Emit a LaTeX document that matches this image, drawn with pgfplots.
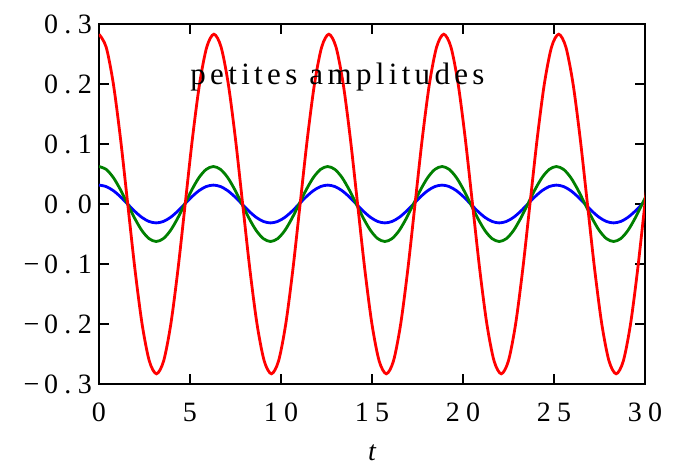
\documentclass[border=0pt]{standalone}
\usepackage{fontspec}
\setmainfont{Liberation Serif}[LetterSpace=23]
\newfontfamily\notefont{Liberation Serif}[LetterSpace=14]
\usepackage{pgfplots}
\pgfplotsset{compat=1.18}
\usepackage{pgfplotstable}

% t: time for the two small swings, tr: time for the large one (slightly longer period)
\pgfplotstableread{
t tr r g b
0 0 0.2830 0.0625 0.0315
0.3927 0.3947 0.2615 0.0577 0.0291
0.7854 0.7893 0.2001 0.0442 0.0223
1.1781 1.1840 0.1083 0.0239 0.0121
1.5708 1.5787 0 0 0
1.9635 1.9733 -0.1083 -0.0239 -0.0121
2.3562 2.3680 -0.2001 -0.0442 -0.0223
2.7489 2.7626 -0.2615 -0.0577 -0.0291
3.1416 3.1573 -0.2830 -0.0625 -0.0315
3.5343 3.5520 -0.2615 -0.0577 -0.0291
3.9270 3.9466 -0.2001 -0.0442 -0.0223
4.3197 4.3413 -0.1083 -0.0239 -0.0121
4.7124 4.7360 0 0 0
5.1051 5.1306 0.1083 0.0239 0.0121
5.4978 5.5253 0.2001 0.0442 0.0223
5.8905 5.9199 0.2615 0.0577 0.0291
6.2832 6.3146 0.2830 0.0625 0.0315
6.6759 6.7093 0.2615 0.0577 0.0291
7.0686 7.1039 0.2001 0.0442 0.0223
7.4613 7.4986 0.1083 0.0239 0.0121
7.8540 7.8933 0 0 0
8.2467 8.2879 -0.1083 -0.0239 -0.0121
8.6394 8.6826 -0.2001 -0.0442 -0.0223
9.0321 9.0772 -0.2615 -0.0577 -0.0291
9.4248 9.4719 -0.2830 -0.0625 -0.0315
9.8175 9.8666 -0.2615 -0.0577 -0.0291
10.2102 10.2612 -0.2001 -0.0442 -0.0223
10.6029 10.6559 -0.1083 -0.0239 -0.0121
10.9956 11.0506 0 0 0
11.3883 11.4452 0.1083 0.0239 0.0121
11.7810 11.8399 0.2001 0.0442 0.0223
12.1737 12.2346 0.2615 0.0577 0.0291
12.5664 12.6292 0.2830 0.0625 0.0315
12.9591 13.0239 0.2615 0.0577 0.0291
13.3518 13.4185 0.2001 0.0442 0.0223
13.7445 13.8132 0.1083 0.0239 0.0121
14.1372 14.2079 0 0 0
14.5299 14.6025 -0.1083 -0.0239 -0.0121
14.9226 14.9972 -0.2001 -0.0442 -0.0223
15.3153 15.3919 -0.2615 -0.0577 -0.0291
15.7080 15.7865 -0.2830 -0.0625 -0.0315
16.1007 16.1812 -0.2615 -0.0577 -0.0291
16.4934 16.5758 -0.2001 -0.0442 -0.0223
16.8861 16.9705 -0.1083 -0.0239 -0.0121
17.2788 17.3652 0 0 0
17.6715 17.7598 0.1083 0.0239 0.0121
18.0642 18.1545 0.2001 0.0442 0.0223
18.4569 18.5492 0.2615 0.0577 0.0291
18.8496 18.9438 0.2830 0.0625 0.0315
19.2423 19.3385 0.2615 0.0577 0.0291
19.6350 19.7332 0.2001 0.0442 0.0223
20.0277 20.1278 0.1083 0.0239 0.0121
20.4204 20.5225 0 0 0
20.8131 20.9171 -0.1083 -0.0239 -0.0121
21.2058 21.3118 -0.2001 -0.0442 -0.0223
21.5984 21.7065 -0.2615 -0.0577 -0.0291
21.9911 22.1011 -0.2830 -0.0625 -0.0315
22.3838 22.4958 -0.2615 -0.0577 -0.0291
22.7765 22.8905 -0.2001 -0.0442 -0.0223
23.1692 23.2851 -0.1083 -0.0239 -0.0121
23.5619 23.6798 0 0 0
23.9546 24.0744 0.1083 0.0239 0.0121
24.3473 24.4691 0.2001 0.0442 0.0223
24.7400 24.8638 0.2615 0.0577 0.0291
25.1327 25.2584 0.2830 0.0625 0.0315
25.5254 25.6531 0.2615 0.0577 0.0291
25.9181 26.0478 0.2001 0.0442 0.0223
26.3108 26.4424 0.1083 0.0239 0.0121
26.7035 26.8371 0 0 0
27.0962 27.2317 -0.1083 -0.0239 -0.0121
27.4889 27.6264 -0.2001 -0.0442 -0.0223
27.8816 28.0211 -0.2615 -0.0577 -0.0291
28.2743 28.4157 -0.2830 -0.0625 -0.0315
28.6670 28.8104 -0.2615 -0.0577 -0.0291
29.0597 29.2051 -0.2001 -0.0442 -0.0223
29.4524 29.5997 -0.1083 -0.0239 -0.0121
29.8451 29.9944 0 0 0
30.2378 30.3891 0.1083 0.0239 0.0121
}\osc

\begin{document}
\begin{tikzpicture}
\useasboundingbox (-49.5pt,-38.5pt) rectangle (290.5pt,192pt);
\begin{axis}[
  at={(0,0)}, anchor=south west,
  scale only axis, width=273pt, height=180pt,
  xmin=0, xmax=30, ymin=-0.3, ymax=0.3,
  xtick={0,5,10,15,20,25,30},
  xticklabels={0,5,10,15,20,25,30},
  ytick={-0.3,-0.2,-0.1,0,0.1,0.2,0.3},
  yticklabels={−\,0.3,−\,0.2,−\,0.1,0.0,0.1,0.2,0.3},
  tick align=inside, tick pos=both, major tick length=5pt,
  axis line style={line width=1.3pt},
  every tick/.style={black, line width=1pt},
  tick label style={font=\fontsize{14}{16}\selectfont},
  xticklabel style={yshift=-6pt},
  xlabel={\itshape t},
  xlabel style={at={(axis description cs:0.5,0)}, anchor=base,
    yshift=-38pt, font=\fontsize{14}{16}\selectfont},
]
\addplot[blue, line width=1.4pt, smooth] table[x=t, y=b] {\osc};
\addplot[green!50!black, line width=1.4pt, smooth] table[x=t, y=g] {\osc};
\addplot[red, line width=1.4pt, smooth] table[x=tr, y=r] {\osc};
\node[anchor=base west, inner sep=0pt, font=\notefont\fontsize{15.5}{18}\selectfont]
  at (axis cs:5,0.2) {petites amplitudes};
\end{axis}
\end{tikzpicture}
\end{document}
